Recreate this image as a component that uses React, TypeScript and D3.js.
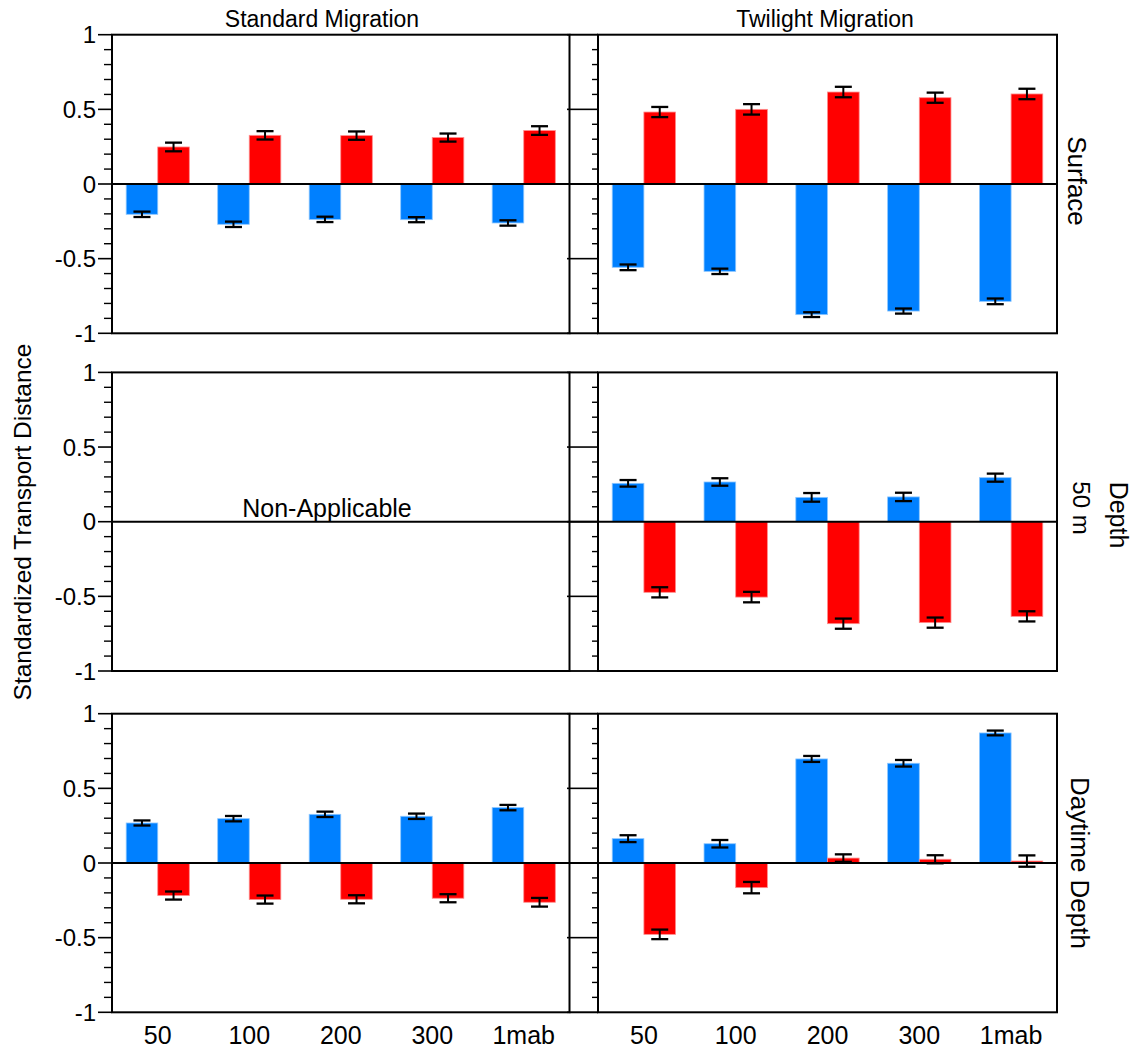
import React from "react";
import * as d3 from "d3";

const categories = ["50", "100", "200", "300", "1mab"];
const columnTitles = ["Standard Migration", "Twilight Migration"];
const yTicks = [1, 0.5, 0, -0.5, -1];
const yMinor = [0.9, 0.8, 0.7, 0.6, 0.4, 0.3, 0.2, 0.1, -0.1, -0.2, -0.3, -0.4, -0.6, -0.7, -0.8, -0.9];

// Standard migration, surface
const stdSurfBlue = [-0.203, -0.27, -0.237, -0.239, -0.261];
const stdSurfBlueErr = [0.018, 0.018, 0.018, 0.017, 0.018];
const stdSurfRed = [0.248, 0.326, 0.324, 0.311, 0.358];
const stdSurfRedErr = [0.029, 0.028, 0.028, 0.027, 0.029];
// Twilight migration, surface
const twiSurfBlue = [-0.558, -0.585, -0.875, -0.851, -0.786];
const twiSurfBlueErr = [0.019, 0.018, 0.016, 0.017, 0.019];
const twiSurfRed = [0.482, 0.5, 0.616, 0.578, 0.603];
const twiSurfRedErr = [0.034, 0.035, 0.035, 0.034, 0.035];
// Twilight migration, 50 m depth
const twi50Blue = [0.257, 0.266, 0.163, 0.166, 0.295];
const twi50BlueErr = [0.022, 0.025, 0.029, 0.028, 0.027];
const twi50Red = [-0.473, -0.505, -0.683, -0.676, -0.634];
const twi50RedErr = [0.034, 0.035, 0.034, 0.034, 0.034];
// Standard migration, daytime depth
const stdDayBlue = [0.268, 0.297, 0.326, 0.313, 0.371];
const stdDayBlueErr = [0.017, 0.018, 0.018, 0.018, 0.018];
const stdDayRed = [-0.218, -0.245, -0.243, -0.236, -0.263];
const stdDayRedErr = [0.027, 0.027, 0.027, 0.027, 0.029];
// Twilight migration, daytime depth
const twiDayBlue = [0.163, 0.129, 0.697, 0.668, 0.871];
const twiDayBlueErr = [0.023, 0.025, 0.02, 0.022, 0.016];
const twiDayRed = [-0.478, -0.165, 0.033, 0.025, 0.013];
const twiDayRedErr = [0.032, 0.038, 0.025, 0.027, 0.038];

const BLUE = "#0080ff";
const RED = "#ff0000";
const FONT = "'Liberation Sans', Arial, Helvetica, sans-serif";

const colX = [
  [112, 569.5],
  [598, 1057],
];
const rowTop = [34.7, 372.4, 713.7];
const rowH = 298.6;

type Series = { blue: number[]; blueErr: number[]; red: number[]; redErr: number[] } | null;

const panels: { row: number; col: number; s: Series }[] = [
  { row: 0, col: 0, s: { blue: stdSurfBlue, blueErr: stdSurfBlueErr, red: stdSurfRed, redErr: stdSurfRedErr } },
  { row: 0, col: 1, s: { blue: twiSurfBlue, blueErr: twiSurfBlueErr, red: twiSurfRed, redErr: twiSurfRedErr } },
  { row: 1, col: 0, s: null },
  { row: 1, col: 1, s: { blue: twi50Blue, blueErr: twi50BlueErr, red: twi50Red, redErr: twi50RedErr } },
  { row: 2, col: 0, s: { blue: stdDayBlue, blueErr: stdDayBlueErr, red: stdDayRed, redErr: stdDayRedErr } },
  { row: 2, col: 1, s: { blue: twiDayBlue, blueErr: twiDayBlueErr, red: twiDayRed, redErr: twiDayRedErr } },
];

function Panel({ row, col, s }: { row: number; col: number; s: Series }) {
  const [x0, x1] = colX[col];
  const top = rowTop[row];
  const y = d3.scaleLinear().domain([-1, 1]).range([top + rowH, top]);
  const x = d3.scaleBand<string>().domain(categories).range([x0, x1]).padding(0);
  const bw = x.bandwidth() * 0.345;
  const majorLen = col === 0 ? 14 : 31;
  const minorLen = col === 0 ? 8 : 6;
  const capW = 8.5;

  const bars: JSX.Element[] = [];
  const errs: JSX.Element[] = [];
  if (s) {
    categories.forEach((c, i) => {
      const cx = (x(c) as number) + x.bandwidth() / 2;
      const items = [
        { v: s.blue[i], e: s.blueErr[i], bx: cx - bw, fill: BLUE, stroke: "#8cc6ff" },
        { v: s.red[i], e: s.redErr[i], bx: cx, fill: RED, stroke: "#ff8c8c" },
      ];
      items.forEach((it, k) => {
        const ya = y(Math.max(0, it.v));
        const yb = y(Math.min(0, it.v));
        bars.push(
          <rect key={`b${i}-${k}`} x={it.bx} y={ya} width={bw} height={Math.max(0.5, yb - ya)} fill={it.fill} stroke={it.stroke} strokeWidth={0.8} />
        );
        const mx = it.bx + bw / 2;
        const yh = y(it.v + it.e);
        const yl = y(it.v - it.e);
        errs.push(
          <g key={`e${i}-${k}`} stroke="#000" strokeWidth={2}>
            <line x1={mx} x2={mx} y1={yh} y2={yl} />
            <line x1={mx - capW} x2={mx + capW} y1={yh} y2={yh} strokeWidth={2.3} />
            <line x1={mx - capW} x2={mx + capW} y1={yl} y2={yl} strokeWidth={2.3} />
          </g>
        );
      });
    });
  }

  return (
    <g>
      {bars}
      <line x1={x0} x2={x1} y1={y(0)} y2={y(0)} stroke="#000" strokeWidth={2} />
      {errs}
      {yTicks.map((t) => (
        <line key={`M${t}`} x1={x0 - majorLen} x2={x0} y1={y(t)} y2={y(t)} stroke="#000" strokeWidth={1.6} />
      ))}
      {yMinor.map((t) => (
        <line key={`m${t}`} x1={x0 - minorLen} x2={x0} y1={y(t)} y2={y(t)} stroke="#000" strokeWidth={1.4} />
      ))}
      {col === 0 &&
        yTicks.map((t) => (
          <text key={`l${t}`} x={96} y={y(t)} textAnchor="end" dominantBaseline="central" fontSize={24} fontFamily={FONT}>
            {String(t)}
          </text>
        ))}
      {row === 2 &&
        categories.map((c) => (
          <text key={`x${c}`} x={(x(c) as number) + x.bandwidth() / 2} y={1044} textAnchor="middle" fontSize={25} fontFamily={FONT}>
            {c}
          </text>
        ))}
      {row === 0 && (
        <text x={col === 0 ? 322 : 825} y={27} textAnchor="middle" fontSize={23} fontFamily={FONT}>
          {columnTitles[col]}
        </text>
      )}
      {!s && (
        <text x={327} y={y(0) - 5} textAnchor="middle" fontSize={25} fontFamily={FONT}>
          Non-Applicable
        </text>
      )}
      <rect x={x0} y={top} width={x1 - x0} height={rowH} fill="none" stroke="#000" strokeWidth={2} />
    </g>
  );
}

export default function App() {
  return (
    <svg width={1144} height={1048} style={{ position: "absolute", left: 0, top: 0, background: "#fff" }}>
      <rect x={0} y={0} width={1144} height={1048} fill="#fff" />
      {rowTop.map((t, r) => (
        <g key={`gap${r}`}>
          <line x1={569.5} x2={598} y1={t} y2={t} stroke="#666" strokeWidth={2} />
          <line x1={569.5} x2={598} y1={t + rowH} y2={t + rowH} stroke="#666" strokeWidth={2} />
          <line x1={569.5} x2={598} y1={t + rowH / 2} y2={t + rowH / 2} stroke="#000" strokeWidth={2} />
        </g>
      ))}
      {panels.map((p) => (
        <Panel key={`${p.row}-${p.col}`} row={p.row} col={p.col} s={p.s} />
      ))}
      <text transform="translate(22,522) rotate(-90)" textAnchor="middle" dominantBaseline="central" fontSize={24.5} fontFamily={FONT}>
        Standardized Transport Distance
      </text>
      <text transform="translate(1077,181) rotate(90)" textAnchor="middle" dominantBaseline="central" fontSize={26} fontFamily={FONT}>
        Surface
      </text>
      <text transform="translate(1119,515) rotate(90)" textAnchor="middle" dominantBaseline="central" fontSize={25} fontFamily={FONT}>
        Depth
      </text>
      <text transform="translate(1081,508) rotate(90)" textAnchor="middle" dominantBaseline="central" fontSize={24} fontFamily={FONT}>
        50 m
      </text>
      <text transform="translate(1080,863) rotate(90)" textAnchor="middle" dominantBaseline="central" fontSize={26} fontFamily={FONT}>
        Daytime Depth
      </text>
    </svg>
  );
}
